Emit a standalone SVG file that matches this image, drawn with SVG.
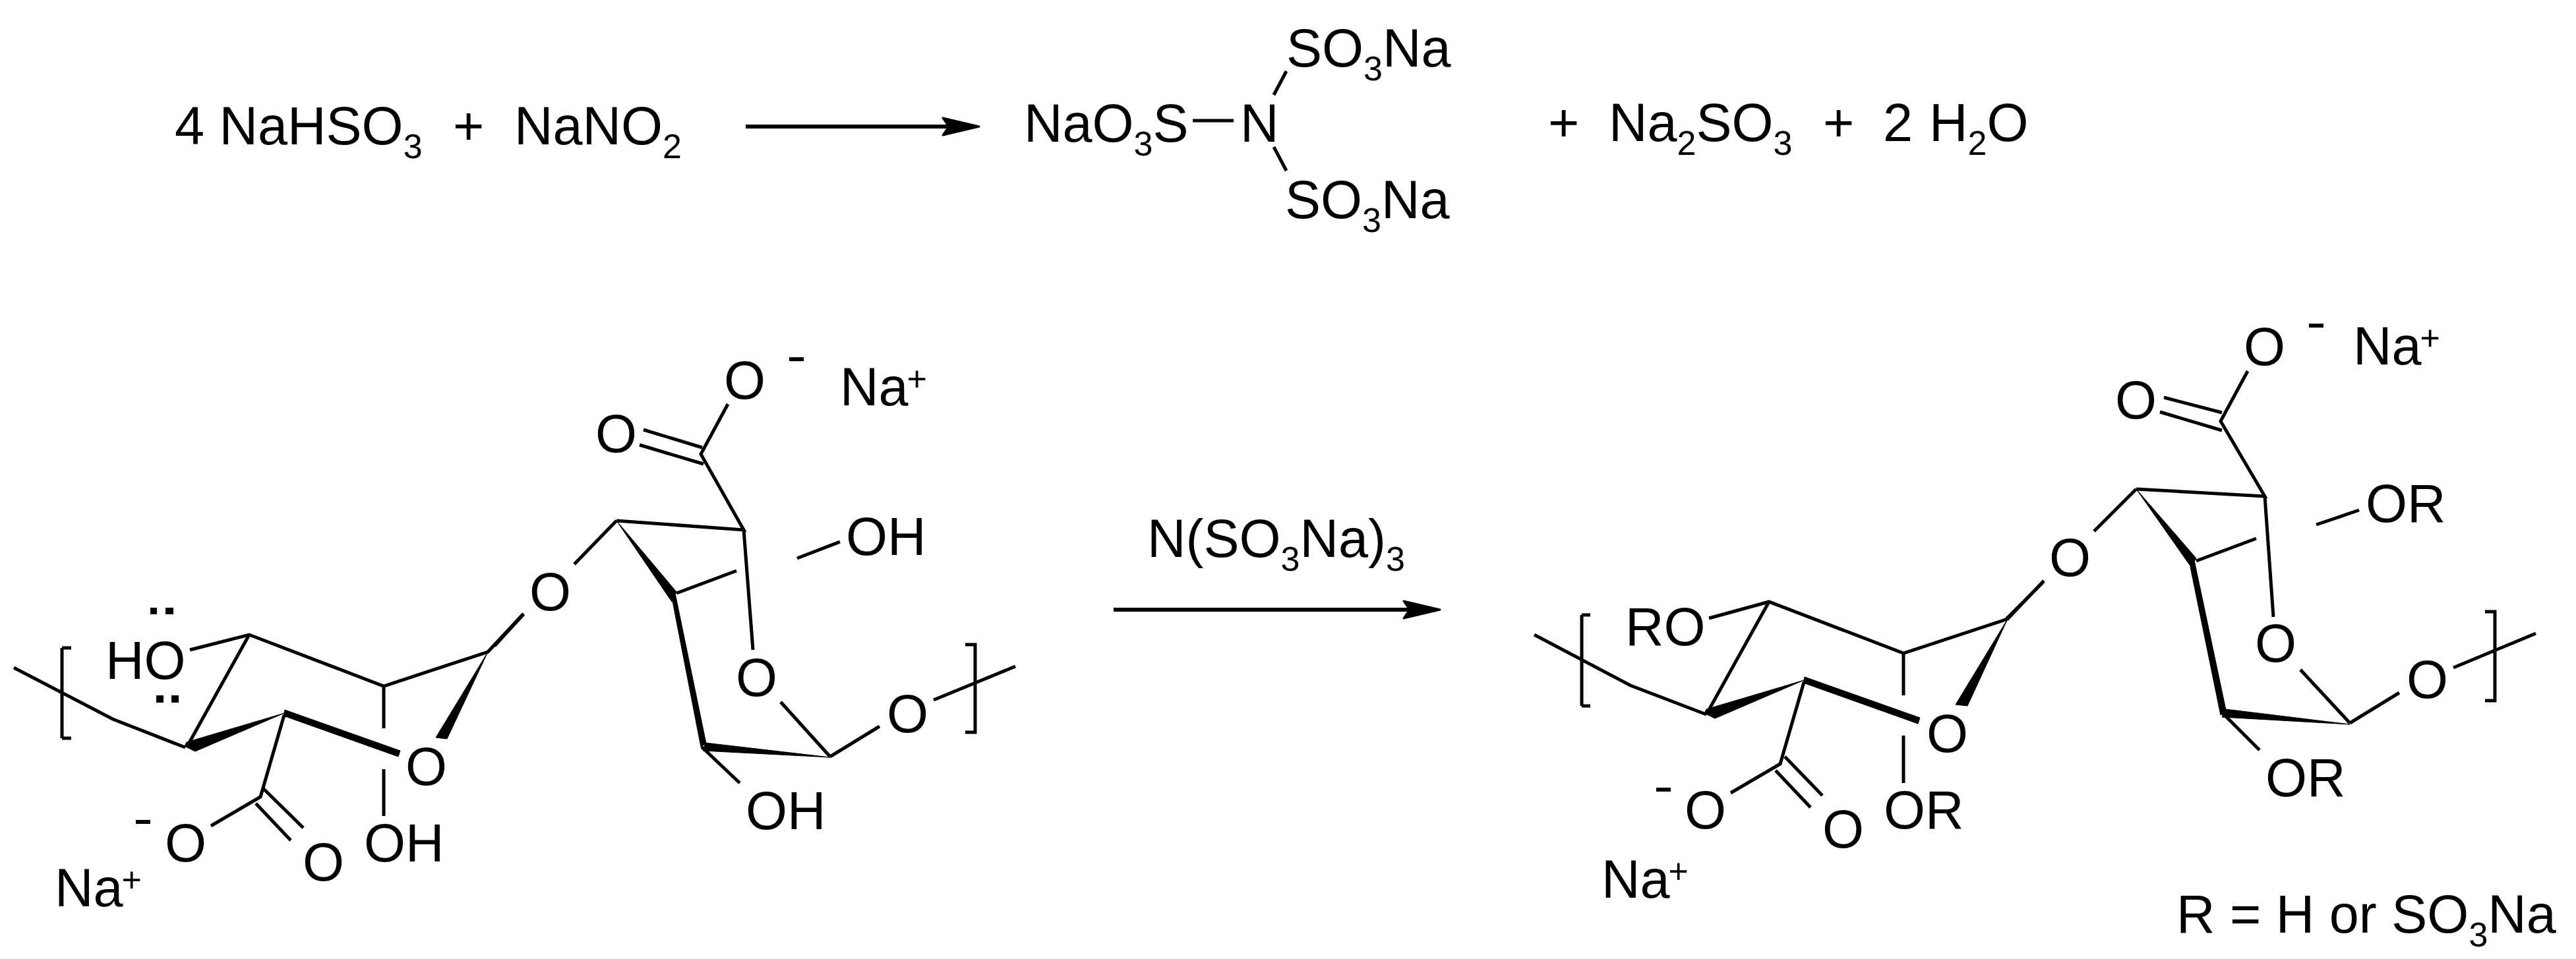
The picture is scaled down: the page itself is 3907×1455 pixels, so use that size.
<svg xmlns="http://www.w3.org/2000/svg" width="3907" height="1455" viewBox="0 0 3907 1455">
<style>
text{font-family:"Liberation Sans",Arial,sans-serif;font-size:81px;fill:#000}
.s{font-size:52px}
.b{fill:none;stroke:#000;stroke-width:5;stroke-linecap:butt;stroke-linejoin:miter}
.w{fill:#000;stroke:#000;stroke-width:1;stroke-linejoin:round}
.a{fill:none;stroke:#000;stroke-width:6}
.d{fill:#000}
</style>
<defs>
<marker id="head" markerUnits="userSpaceOnUse" markerWidth="62" markerHeight="36" refX="44" refY="18" orient="auto">
<path d="M58,18 L3,5 L12,18 L3,31 Z" fill="#000" stroke="#000" stroke-width="3" stroke-linejoin="round"/>
</marker>
</defs>
<rect width="3907" height="1455" fill="#fff"/>
<g id="connectors">
<path class="a" marker-end="url(#head)" d="M1131,192H1471"/>
<path class="a" marker-end="url(#head)" d="M1689,925H2170"/>
<path class="b" d="M1809,183H1871M1951,108L1932,144M1932,223L1951,259"/>
<!-- left molecule -->
<path class="b" d="M21,1013L171,1091L281,1134M94,983V1120M108,983H94M108,1120H94"/>
<path class="b" d="M288,986L378,963L582,1041L740,989L794,931M378,963L283,1134M582,1041V1105"/>
<path class="w" d="M740,989L678,1121L661,1119Z"/>
<path class="w" d="M431,1082L296,1140L280,1132L283,1126Z"/>
<path class="w" d="M432,1077L607,1139L604,1148L430,1086Z"/>
<path class="b" d="M431,1085L395,1209L320,1253M400,1197L460,1256M388,1219L441,1275M582,1167V1238"/>
<path class="b" d="M794,932L750,980M935,790L871,856M935,790L1128,804L1063,689L1104,613M976,652L1065,679M970,675L1067,704M1209,847L1274,822M1128,804L1142,986M1026,900L1117,866M1259,1148L1184,1065M1259,1148L1334,1102M1416,1062L1540,1011M1064,1133L1122,1188M1464,978H1479V1111H1464"/>
<path class="w" d="M935,790L1026,898L1019,913Z"/>
<path class="w" d="M1024,900L1071,1128L1063,1133L1020,912Z"/>
<path class="w" d="M1070,1127L1259,1149L1066,1139Z"/>
<!-- right molecule -->
<path class="b" d="M2327,963L2473,1040L2588,1084M2399,933V1071M2412,933H2399M2412,1071H2399"/>
<path class="b" d="M2592,938L2683,913L2887,991L3045,939L3100,881M2683,913L2588,1084M2887,991V1055"/>
<path class="w" d="M3045,939L2984,1071L2966,1069Z"/>
<path class="w" d="M2736,1032L2601,1090L2585,1082L2588,1076Z"/>
<path class="w" d="M2737,1027L2912,1089L2909,1098L2735,1036Z"/>
<path class="b" d="M2736,1035L2700,1159L2625,1203M2707,1148L2764,1207M2693,1169L2746,1225M2887,1116V1188"/>
<path class="b" d="M3099,883L3043,939M3240,742L3176,806M3240,742L3435,753L3368,639L3409,563M3282,603L3370,626M3276,625L3370,653M3513,796L3578,774M3435,753L3448,936M3331,851L3422,817M3564,1097L3489,1016M3564,1097L3639,1051M3721,1013L3846,961M3370,1081L3427,1138M3769,928H3784V1063H3769"/>
<path class="w" d="M3240,742L3331,847L3323,860Z"/>
<path class="w" d="M3328,850L3376,1077L3368,1085L3322,860Z"/>
<path class="w" d="M3376,1076L3564,1099L3370,1088Z"/>
</g>
<g id="eq-reactants">
<text x="265" y="219">4 NaHSO<tspan class="s" dy="21">3</tspan></text>
<text x="687" y="219">+</text>
<text x="780" y="219">NaNO<tspan class="s" dy="21">2</tspan></text>
</g>
<g id="eq-center">
<text x="1553" y="215">NaO<tspan class="s" dy="21">3</tspan><tspan dy="-21">S</tspan></text>
<text x="1881" y="215">N</text>
<text x="1951" y="101">SO<tspan class="s" dy="21">3</tspan><tspan dy="-21">Na</tspan></text>
<text x="1949" y="331">SO<tspan class="s" dy="21">3</tspan><tspan dy="-21">Na</tspan></text>
</g>
<g id="eq-products">
<text x="2348" y="214">+</text>
<text x="2440" y="214">Na<tspan class="s" dy="21">2</tspan><tspan dy="-21">SO</tspan><tspan class="s" dy="21">3</tspan></text>
<text x="2765" y="214">+</text>
<text x="2856" y="214">2</text>
<text x="2926" y="214">H<tspan class="s" dy="21">2</tspan><tspan dy="-21">O</tspan></text>
</g>
<g id="reagent"><text x="1740" y="845">N(SO<tspan class="s" dy="21">3</tspan><tspan dy="-21">Na)</tspan><tspan class="s" dy="21">3</tspan></text></g>
<g id="mol-left">
<g id="l-ho"><text x="160" y="1030">HO</text>
<path class="d" d="M228,922h10v10h-10zM251,922h12v10h-12zM237,1055h11v11h-11zM260,1055h11v11h-11z"/></g>
<g id="l-o-ring"><text x="615" y="1191">O</text></g>
<g id="l-oh1"><text x="552" y="1307">OH</text></g>
<g id="l-o-minus"><text x="250" y="1307">O</text><path class="d" d="M206,1244h22v6h-22z"/></g>
<g id="l-o-carb"><text x="459" y="1336">O</text></g>
<g id="l-na1"><text x="83" y="1375">Na<tspan class="s" dy="-22" dx="-2">+</tspan></text></g>
<g id="l-o-top"><text x="1098" y="605">O</text><path class="d" d="M1197,542h22v6h-22z"/></g>
<g id="l-na2"><text x="1274" y="615">Na<tspan class="s" dy="-22" dx="-2">+</tspan></text></g>
<g id="l-o-carb2"><text x="903" y="686">O</text></g>
<g id="l-oh2"><text x="1283" y="842">OH</text></g>
<g id="l-o-link"><text x="803" y="926">O</text></g>
<g id="l-o-ring2"><text x="1116" y="1056">O</text></g>
<g id="l-o-end"><text x="1345" y="1111">O</text></g>
<g id="l-oh3"><text x="1131" y="1258">OH</text></g>
</g>
<g id="mol-right">
<g id="r-ro"><text x="2465" y="979">RO</text></g>
<g id="r-o-ring"><text x="2922" y="1141">O</text></g>
<g id="r-or1"><text x="2857" y="1257">OR</text></g>
<g id="r-o-minus"><text x="2555" y="1257">O</text><path class="d" d="M2512,1195h22v6h-22z"/></g>
<g id="r-o-carb"><text x="2764" y="1286">O</text></g>
<g id="r-na1"><text x="2429" y="1362">Na<tspan class="s" dy="-22" dx="-2">+</tspan></text></g>
<g id="r-o-top"><text x="3403" y="554">O</text><path class="d" d="M3502,491h22v6h-22z"/></g>
<g id="r-na2"><text x="3569" y="553">Na<tspan class="s" dy="-22" dx="-2">+</tspan></text></g>
<g id="r-o-carb2"><text x="3208" y="635">O</text></g>
<g id="r-or2"><text x="3588" y="792">OR</text></g>
<g id="r-o-link"><text x="3108" y="874">O</text></g>
<g id="r-o-ring2"><text x="3420" y="1004">O</text></g>
<g id="r-o-end"><text x="3650" y="1059">O</text></g>
<g id="r-or3"><text x="3436" y="1208">OR</text></g>
<g id="r-legend"><text x="3301" y="1415">R = H or SO<tspan class="s" dy="21">3</tspan><tspan dy="-21">Na</tspan></text></g>
</g>
</svg>
